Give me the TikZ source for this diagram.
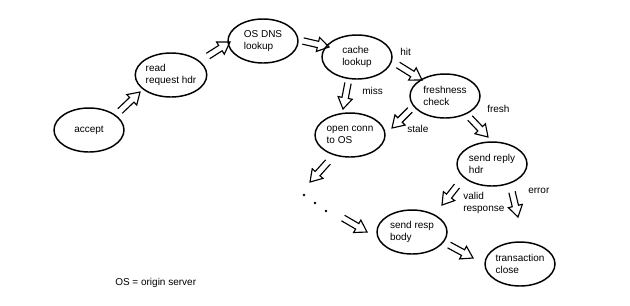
\documentclass[tikz,border=0pt]{standalone}
\usepackage{fontspec}
\setmainfont{Liberation Sans}
\usetikzlibrary{calc,shapes.geometric}
\newcommand{\fw}{2.4pt}
\newcommand{\fh}{5.4pt}
\newcommand{\fl}{8.5pt}
\begin{document}
\begin{tikzpicture}[x=0.75pt,y=-0.75pt,
  txt/.style={font=\fontsize{7.5}{8.7}\selectfont},
  state/.style={txt,ellipse,draw,line width=1.1pt,minimum width=52.5pt,minimum height=33pt,inner sep=0pt,align=left},
  lbl/.style={txt,anchor=west,inner sep=0pt,align=left},
  fat/.style={draw,line width=0.85pt,line join=miter,to path={
    ($(\tikztostart)!\fw!90:(\tikztotarget)$) --
    ($($(\tikztotarget)!\fl!(\tikztostart)$)!\fw!90:(\tikztotarget)$) --
    ($($(\tikztotarget)!\fl!(\tikztostart)$)!\fh!90:(\tikztotarget)$) --
    (\tikztotarget) --
    ($($(\tikztotarget)!\fl!(\tikztostart)$)!\fh!-90:(\tikztotarget)$) --
    ($($(\tikztotarget)!\fl!(\tikztostart)$)!\fw!-90:(\tikztotarget)$) --
    ($(\tikztostart)!\fw!-90:(\tikztotarget)$)}},
  dot/.style={circle,fill,inner sep=0pt,minimum size=2pt}]
\useasboundingbox (0,0) rectangle (630,305);

% states
\node[state] (accept) at (89,130) {accept};
\node[state] (read) at (171,75) {read\\request hdr};
\node[state] (dns) at (263,41) {OS DNS\\lookup};
\node[state] (cache) at (357,57) {cache\\lookup};
\node[state] (fresh) at (445,96) {freshness\\check};
\node[state] (open) at (350,135) {open conn\\to OS};
\node[state] (reply) at (492,164) {send reply\\hdr};
\node[state] (body) at (412,232) {send resp\\body};
\node[state] (close) at (520,264) {transaction\\close};

% dots
\node[dot] (d1) at (304,195) {};
\node[dot] (d2) at (315,203) {};
\node[dot] (d3) at (326,211) {};

% arrow end points
\coordinate (a1s) at (120,111); \coordinate (a1e) at (140,92);
\coordinate (a2s) at (208,56);  \coordinate (a2e) at (230,42);
\coordinate (a3s) at (303,41);  \coordinate (a3e) at (329,47);
\coordinate (a4s) at (398,65);  \coordinate (a4e) at (422,80);
\coordinate (a5s) at (348,83);  \coordinate (a5e) at (343,109);
\coordinate (a6s) at (410,110); \coordinate (a6e) at (392,128);
\coordinate (a7s) at (470,118); \coordinate (a7e) at (488,137);
\coordinate (a8s) at (328,162); \coordinate (a8e) at (310,182);
\coordinate (a9s) at (343,218); \coordinate (a9e) at (367,232);
\coordinate (a10s) at (457,186); \coordinate (a10e) at (442,205);
\coordinate (a11s) at (512,192); \coordinate (a11e) at (518,217);
\coordinate (a12s) at (449,245); \coordinate (a12e) at (473,258);

\draw[fat] (a1s) to (a1e);
\draw[fat] (a2s) to (a2e);
\draw[fat] (a3s) to (a3e);
\draw[fat] (a4s) to (a4e);
\draw[fat] (a5s) to (a5e);
\draw[fat] (a6s) to (a6e);
\draw[fat] (a7s) to (a7e);
\draw[fat] (a8s) to (a8e);
\draw[fat] (a9s) to (a9e);
\draw[fat] (a10s) to (a10e);
\draw[fat] (a11s) to (a11e);
\draw[fat] (a12s) to (a12e);

% labels
\node[lbl] (lhit) at (400,52) {hit};
\node[lbl] (lmiss) at (362,91) {miss};
\node[lbl] (lstale) at (407,129) {stale};
\node[lbl] (lfresh) at (487,109) {fresh};
\node[lbl] (lvalid) at (463,203) {valid\\response};
\node[lbl] (lerror) at (528,191) {error};
\node[lbl] (legend) at (115,283) {OS = origin server};
\end{tikzpicture}
\end{document}
